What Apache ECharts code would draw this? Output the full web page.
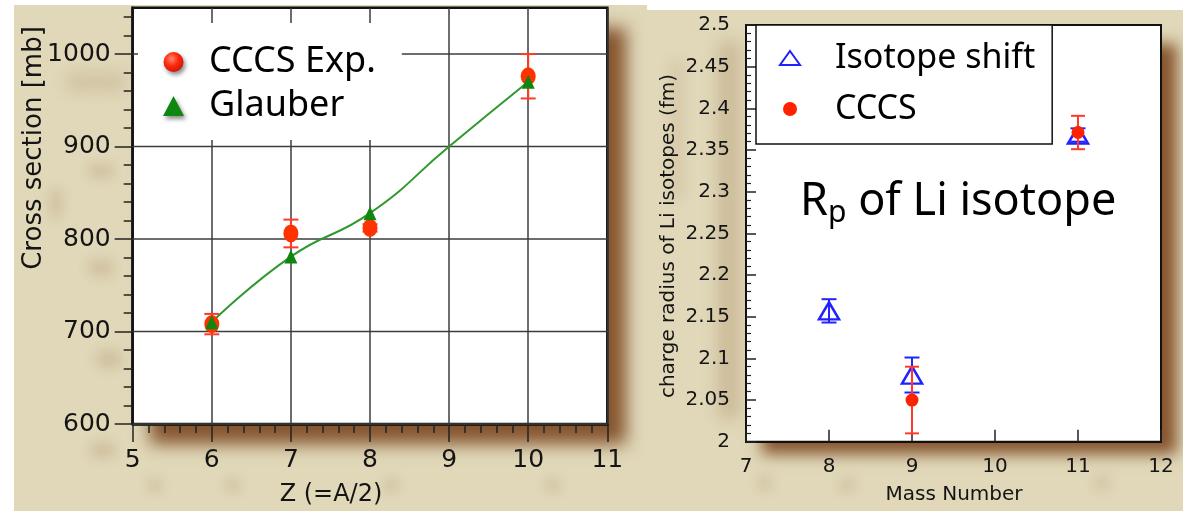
<!DOCTYPE html>
<html>
<head>
<meta charset="utf-8">
<script src="https://cdn.jsdelivr.net/npm/echarts@6/dist/echarts.min.js"></script>
<style>
  html, body { margin: 0; padding: 0; background: #fff; }
  #chart { width: 1183px; height: 511px; }
</style>
</head>
<body>
<div id="chart"></div>
<script>
// Left panel: interaction cross sections of Li isotopes versus Z (=A/2)
const zValues = [6, 7, 8, 10];
const cccsSigma = [708, 806, 812, 976];
const cccsSigmaErr = [11, 15, 4, 24];
const glauberSigma = [710, 781, 828, 970];
// Glauber calculation drawn as a smooth curve (value at Z=9)
const glauberCurveZ = [6, 7, 8, 9, 10];
const glauberCurveSigma = [710, 781, 828, 900, 970];
const sigmaTicks = [600, 700, 800, 900, 1000];

// Right panel: charge radius of Li isotopes versus mass number
const isoMass = [8, 9, 11];
const isoRadius = [2.157, 2.08, 2.368];
const isoRadiusErr = [0.014, 0.021, 0.008];
const cccsMass = [9, 11];
const cccsRadius = [2.05, 2.371];
const cccsRadiusErr = [0.04, 0.02];

const minorSigmaTicks = [];
for (let v = 620; v <= 1040; v += 20) if (v % 100 !== 0) minorSigmaTicks.push(v);

const AXIS_FONT = 'DejaVu Sans';
const LEGEND_FONT = 'Noto Sans';
const INK = '#141414';
const PAPER = '#e0d8b9';

function errorBarSeries(xi, yi, xs, ys, errs, color, capWidth, z) {
  return {
    type: 'custom', xAxisIndex: xi, yAxisIndex: yi, z: z, silent: true,
    data: xs.map((x, i) => [x, ys[i] - errs[i], ys[i] + errs[i]]),
    encode: { x: 0, y: [1, 2] },
    renderItem: function (params, api) {
      const lo = api.coord([api.value(0), api.value(1)]);
      const hi = api.coord([api.value(0), api.value(2)]);
      const h = capWidth / 2;
      const style = { stroke: color, lineWidth: 2 };
      return {
        type: 'group',
        children: [
          { type: 'line', shape: { x1: lo[0], y1: lo[1], x2: hi[0], y2: hi[1] }, style: style },
          { type: 'line', shape: { x1: lo[0] - h, y1: lo[1], x2: lo[0] + h, y2: lo[1] }, style: style },
          { type: 'line', shape: { x1: hi[0] - h, y1: hi[1], x2: hi[0] + h, y2: hi[1] }, style: style }
        ]
      };
    }
  };
}

// horizontal grid line at a given cross-section value, placed through the y scale
function sigmaGridLine(value) {
  return {
    type: 'custom', xAxisIndex: 0, yAxisIndex: 0, z: 1, silent: true,
    data: [[5, value, 11]],
    encode: { x: [0, 2], y: 1 },
    renderItem: function (params, api) {
      const a = api.coord([api.value(0), api.value(1)]);
      const b = api.coord([api.value(2), api.value(1)]);
      return { type: 'line', shape: { x1: a[0], y1: a[1], x2: b[0], y2: b[1] }, style: { stroke: '#3c3c3c', lineWidth: 1.5 } };
    }
  };
}

// soft shape drawn only through its blurred shadow (shape itself kept off canvas)
const OFF = 4000;
function softRect(x, y, w, h, color, blur, r) {
  return {
    type: 'rect', z: -15, silent: true,
    shape: { x: x - OFF, y: y, width: w, height: h, r: r || 0 },
    style: { fill: '#000', shadowColor: color, shadowBlur: blur, shadowOffsetX: OFF, shadowOffsetY: 0 }
  };
}

const smudge = 'rgba(150,110,70,0.22)';
const backdrop = [
  { type: 'rect', z: -19, silent: true, shape: { x: 0, y: 0, width: 14, height: 511 }, style: { fill: '#ffffff' } },
  { type: 'rect', z: -19, silent: true, shape: { x: 0, y: 0, width: 647, height: 5 }, style: { fill: '#ffffff' } },
  { type: 'rect', z: -19, silent: true, shape: { x: 647, y: 0, width: 536, height: 10 }, style: { fill: '#ffffff' } },
  // paper smudges
  softRect(66, 74, 60, 16, smudge, 16, 8),
  softRect(88, 164, 26, 14, smudge, 12, 7),
  softRect(50, 188, 12, 30, smudge, 12, 6),
  softRect(88, 260, 26, 16, smudge, 12, 8),
  softRect(96, 350, 26, 18, smudge, 12, 8),
  softRect(90, 442, 26, 16, smudge, 12, 8),
  softRect(148, 478, 14, 14, smudge, 12, 7),
  softRect(226, 478, 14, 14, smudge, 12, 7),
  softRect(384, 478, 14, 14, smudge, 12, 7),
  softRect(546, 478, 14, 14, smudge, 12, 7),
  softRect(718, 40, 22, 380, 'rgba(150,110,70,0.28)', 16, 10),
  softRect(672, 60, 10, 140, 'rgba(150,110,70,0.18)', 14, 5),
  softRect(758, 476, 14, 14, smudge, 12, 7),
  softRect(840, 478, 14, 14, smudge, 12, 7),
  softRect(1095, 476, 14, 14, smudge, 12, 7),
  // drop shadows behind both plot frames
  softRect(150, 28, 476, 416, '#86552f', 16, 0),
  softRect(762, 44, 415, 410, '#86552f', 14, 0)
];

const titles = [
  {
    type: 'text', z: 10, x: 34, y: 148, rotation: Math.PI / 2, silent: true,
    style: { text: 'Cross section [mb]', fontFamily: AXIS_FONT, fontSize: 26, fill: INK, align: 'center', verticalAlign: 'middle' }
  },
  {
    type: 'text', z: 10, x: 331, y: 495, silent: true,
    style: { text: 'Z (=A/2)', fontFamily: AXIS_FONT, fontSize: 24, fill: INK, align: 'center', verticalAlign: 'middle' }
  },
  {
    type: 'text', z: 10, x: 669, y: 236, rotation: Math.PI / 2, silent: true,
    style: { text: 'charge radius of Li isotopes (fm)', fontFamily: AXIS_FONT, fontSize: 20, fill: INK, align: 'center', verticalAlign: 'middle' }
  },
  {
    type: 'text', z: 10, x: 954, y: 495, silent: true,
    style: { text: 'Mass Number', fontFamily: AXIS_FONT, fontSize: 20, fill: INK, align: 'center', verticalAlign: 'middle' }
  },
  {
    type: 'text', z: 10, x: 800, y: 176, silent: true,
    style: {
      text: '{r|R}{s|p}{r| of Li isotope}',
      align: 'left', verticalAlign: 'top',
      rich: {
        r: { fontFamily: LEGEND_FONT, fontSize: 45, lineHeight: 52, fill: '#000' },
        s: { fontFamily: LEGEND_FONT, fontSize: 30, lineHeight: 28, verticalAlign: 'bottom', fill: '#000' }
      }
    }
  }
];

const iconShadow = { shadowBlur: 4, shadowColor: 'rgba(0,0,0,0.45)', shadowOffsetX: 2, shadowOffsetY: 3 };

const option = {
  animation: false,
  backgroundColor: PAPER,
  grid: [
    { left: 132.7, top: 7.8, width: 474.6, height: 416.2, show: true, backgroundColor: '#ffffff', borderColor: '#111', borderWidth: 2.5 },
    { left: 746, top: 25, width: 415, height: 416.7, show: true, backgroundColor: '#ffffff', borderColor: '#111', borderWidth: 2 }
  ],
  xAxis: [
    {
      gridIndex: 0, type: 'value', min: 5, max: 11, interval: 1,
      axisLine: { lineStyle: { color: '#111', width: 2.5 } },
      axisTick: { length: 18, lineStyle: { color: '#222', width: 1.5 } },
      minorTick: { show: true, splitNumber: 5, length: 9, lineStyle: { color: '#222', width: 1.5 } },
      splitLine: { show: true, lineStyle: { color: '#3c3c3c', width: 1.5 } },
      axisLabel: { fontFamily: AXIS_FONT, fontSize: 25, color: INK, margin: 24 }
    },
    {
      gridIndex: 1, type: 'value', min: 7, max: 12, interval: 1,
      axisLine: { lineStyle: { color: '#111', width: 2 } },
      axisTick: { inside: true, length: 12, lineStyle: { color: '#222', width: 1.5 } },
      splitLine: { show: false },
      axisLabel: { fontFamily: AXIS_FONT, fontSize: 20, color: INK, margin: 15 }
    }
  ],
  yAxis: [
    {
      gridIndex: 0, type: 'value', min: 600, max: 1050, interval: 100,
      axisLine: { lineStyle: { color: '#111', width: 2.5 } },
      axisTick: { length: 18, customValues: sigmaTicks, lineStyle: { color: '#222', width: 1.5 } },
      splitLine: { show: false },
      axisLabel: {
        customValues: sigmaTicks, formatter: function (v) { return String(v); },
        fontFamily: AXIS_FONT, fontSize: 25, color: INK, margin: 22
      }
    },
    {
      gridIndex: 0, type: 'value', position: 'left', min: 600, max: 1050, interval: 20,
      axisLine: { show: false },
      axisTick: { length: 9, customValues: minorSigmaTicks, lineStyle: { color: '#222', width: 1.5 } },
      axisLabel: { show: false },
      splitLine: { show: false }
    },
    {
      gridIndex: 1, type: 'value', min: 2, max: 2.5, interval: 0.05,
      axisLine: { lineStyle: { color: '#111', width: 2 } },
      axisTick: { inside: true, length: 10, lineStyle: { color: '#222', width: 1.5 } },
      minorTick: { show: true, splitNumber: 5, length: 5, lineStyle: { color: '#222', width: 1.2 } },
      splitLine: { show: false },
      axisLabel: { fontFamily: AXIS_FONT, fontSize: 20, color: INK, margin: 16 }
    }
  ],
  legend: [
    {
      data: [
        {
          name: 'CCCS Exp.',
          itemStyle: Object.assign({
            color: {
              type: 'radial', x: 0.4, y: 0.35, r: 0.75,
              colorStops: [{ offset: 0, color: '#ff8a70' }, { offset: 0.45, color: '#ff2a10' }, { offset: 1, color: '#c41000' }]
            }
          }, iconShadow)
        },
        { name: 'Glauber', itemStyle: Object.assign({ color: '#0f860f' }, iconShadow) }
      ],
      orient: 'vertical', left: 138, top: 23, padding: [21, 26, 16, 25],
      backgroundColor: '#ffffff', borderWidth: 0,
      itemWidth: 21, itemHeight: 20, itemGap: 8, selectedMode: false,
      textStyle: { fontFamily: LEGEND_FONT, fontSize: 36, lineHeight: 36, color: '#000', padding: [0, 0, 0, 20] }
    },
    {
      data: ['Isotope shift', 'CCCS'],
      orient: 'vertical', left: 756, top: 25, padding: [16, 17, 18, 23],
      backgroundColor: '#ffffff', borderColor: '#111', borderWidth: 1.5,
      itemWidth: 20, itemHeight: 14, itemGap: 17, selectedMode: false,
      textStyle: { fontFamily: LEGEND_FONT, fontSize: 34, lineHeight: 34, color: '#000', padding: [0, 0, 0, 30] }
    }
  ],
  graphic: { elements: backdrop.concat(titles) },
  series: sigmaTicks.map(sigmaGridLine).concat([
    {
      name: 'Glauber curve', type: 'line', xAxisIndex: 0, yAxisIndex: 0, z: 2,
      smooth: 0.5, showSymbol: false, silent: true,
      lineStyle: { color: '#2f982f', width: 2 },
      data: glauberCurveZ.map((z, i) => [z, glauberCurveSigma[i]])
    },
    errorBarSeries(0, 0, zValues, cccsSigma, cccsSigmaErr, '#ff3b26', 15, 3),
    {
      name: 'CCCS Exp.', type: 'scatter', xAxisIndex: 0, yAxisIndex: 0, z: 4,
      symbol: 'circle', symbolSize: [15, 18],
      itemStyle: { color: '#ff3300', opacity: 1 },
      data: zValues.map((z, i) => [z, cccsSigma[i]])
    },
    {
      name: 'Glauber', type: 'scatter', xAxisIndex: 0, yAxisIndex: 0, z: 5,
      symbol: 'triangle', symbolSize: [13, 14],
      itemStyle: { color: '#0f860f', opacity: 1 },
      data: zValues.map((z, i) => [z, glauberSigma[i]])
    },
    errorBarSeries(1, 2, isoMass, isoRadius, isoRadiusErr, '#2424ff', 15, 3),
    {
      name: 'Isotope shift', type: 'scatter', xAxisIndex: 1, yAxisIndex: 2, z: 4,
      symbol: 'triangle', symbolSize: [20, 17],
      itemStyle: { color: 'rgba(255,255,255,0)', borderColor: '#2121ff', borderWidth: 2.5, opacity: 1 },
      data: isoMass.map((m, i) => [m, isoRadius[i]])
    },
    errorBarSeries(1, 2, cccsMass, cccsRadius, cccsRadiusErr, '#ff3a2a', 14, 5),
    {
      name: 'CCCS', type: 'scatter', xAxisIndex: 1, yAxisIndex: 2, z: 6,
      symbol: 'circle', symbolSize: 13,
      itemStyle: { color: '#ff2200', opacity: 1 },
      data: cccsMass.map((m, i) => [m, cccsRadius[i]])
    }
  ])
};

const chart = echarts.init(document.getElementById('chart'));
chart.setOption(option);
</script>
</body>
</html>
